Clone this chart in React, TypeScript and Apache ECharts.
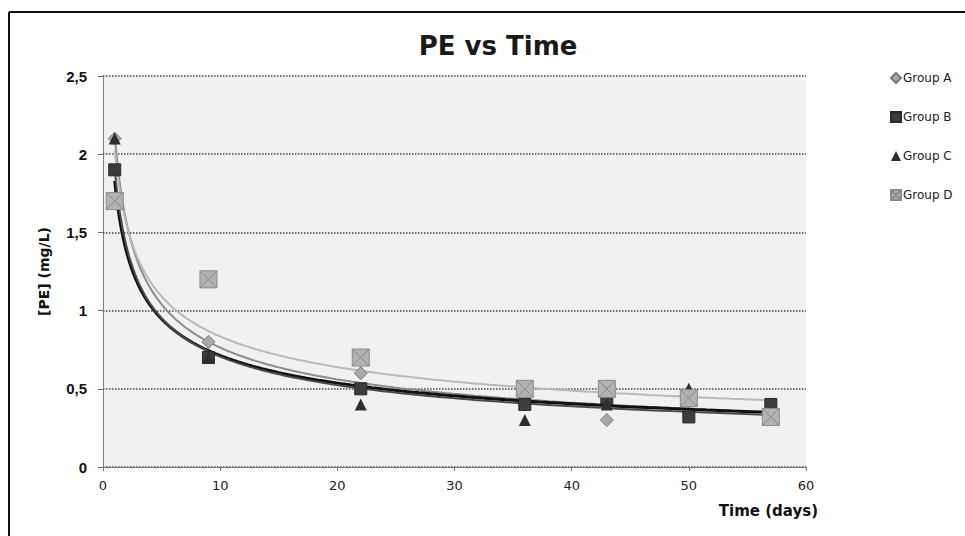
import React, { useEffect, useRef } from "react";
import * as echarts from "echarts";

const days = [1, 9, 22, 36, 43, 50, 57];
const groupA = [2.1, 0.8, 0.6, 0.45, 0.3, 0.42, 0.36];
const groupB = [1.9, 0.7, 0.5, 0.4, 0.44, 0.32, 0.4];
const groupC = [2.1, 0.7, 0.4, 0.3, 0.4, 0.5, 0.36];
const groupD = [1.7, 1.2, 0.7, 0.5, 0.5, 0.44, 0.32];
const groupNames = ["Group A", "Group B", "Group C", "Group D"];
const xTicks = [0, 10, 20, 30, 40, 50, 60];
const yTicks = [0, 0.5, 1, 1.5, 2, 2.5];

// Power regression (y = a * x^b) in log-log space, as Excel's power trendline
function powerFit(xs: number[], ys: number[]) {
  const n = xs.length;
  let sx = 0, sy = 0, sxx = 0, sxy = 0;
  for (let i = 0; i < n; i++) {
    const lx = Math.log(xs[i]);
    const ly = Math.log(ys[i]);
    sx += lx; sy += ly; sxx += lx * lx; sxy += lx * ly;
  }
  const b = (n * sxy - sx * sy) / (n * sxx - sx * sx);
  const a = Math.exp((sy - b * sx) / n);
  return { a, b };
}

function trendPoints(xs: number[], ys: number[]) {
  const { a, b } = powerFit(xs, ys);
  const pts: number[][] = [];
  const x0 = xs[0];
  const x1 = xs[xs.length - 1];
  const steps = 200;
  for (let i = 0; i <= steps; i++) {
    const t = i / steps;
    const x = x0 * Math.pow(x1 / x0, t);
    pts.push([x, a * Math.pow(x, b)]);
  }
  return pts;
}

const diamond = "path://M5,0L10,5L5,10L0,5Z";
const crossSquare = "path://M0,0L10,0L10,10L0,10Z M0,0L10,10 M10,0L0,10";

export default function App() {
  const ref = useRef<HTMLDivElement>(null);

  useEffect(() => {
    if (!ref.current) return;
    const chart = echarts.init(ref.current, undefined, { renderer: "svg" });

    const groups = [groupA, groupB, groupC, groupD];
    const scatterStyles = [
      { symbol: diamond, size: 13, color: "#a8a8a8", border: "#7a7a7a", bw: 1 },
      { symbol: "rect", size: 12, color: "#3c3c3c", border: "#2a2a2a", bw: 1 },
      { symbol: "triangle", size: 12, color: "#2e2e2e", border: "#2e2e2e", bw: 0 },
      { symbol: crossSquare, size: 17, color: "#b3b3b3", border: "#8a8a8a", bw: 1 },
    ];
    const trendStyles = [
      { color: "#8c8c8c", width: 2 },
      { color: "#111111", width: 3 },
      { color: "#4a4a4a", width: 2 },
      { color: "#b8b8b8", width: 2 },
    ];

    const trendSeries = groups.map((g, i) => ({
      name: "Trend " + groupNames[i],
      type: "line",
      data: trendPoints(days, g),
      showSymbol: false,
      symbol: "none",
      lineStyle: { color: trendStyles[i].color, width: trendStyles[i].width },
      z: 2,
      silent: true,
    }));

    const scatterSeries = groups.map((g, i) => ({
      name: groupNames[i],
      type: "scatter",
      data: days.map((d, j) => [d, g[j]]),
      symbol: scatterStyles[i].symbol,
      symbolSize: scatterStyles[i].size,
      itemStyle: {
        color: scatterStyles[i].color,
        borderColor: scatterStyles[i].border,
        borderWidth: scatterStyles[i].bw,
        opacity: 1,
      },
      z: 3,
    }));

    chart.setOption({
      animation: false,
      backgroundColor: "#ffffff",
      title: {
        text: "PE vs Time",
        left: 493,
        top: 28,
        textAlign: "center",
        textStyle: {
          fontFamily: "DejaVu Sans",
          fontWeight: "bold",
          fontSize: 26,
          color: "#1a1a1a",
        },
      },
      legend: {
        data: groupNames,
        orient: "vertical",
        left: 885,
        top: 67,
        itemGap: 27,
        itemWidth: 10,
        itemHeight: 10,
        textStyle: {
          fontFamily: "DejaVu Sans",
          fontSize: 12,
          color: "#222",
          padding: [0, 0, 0, -3],
        },
      },
      grid: {
        left: 103,
        right: 159,
        top: 76,
        bottom: 69,
        show: true,
        backgroundColor: "#f1f1f1",
        borderWidth: 0,
      },
      xAxis: {
        type: "value",
        min: xTicks[0],
        max: xTicks[xTicks.length - 1],
        interval: 10,
        name: "Time (days)",
        nameLocation: "end",
        nameGap: 12,
        nameTextStyle: {
          fontFamily: "DejaVu Sans",
          fontWeight: "bold",
          fontSize: 15,
          color: "#111",
          align: "right",
          verticalAlign: "top",
          padding: [36, 0, 0, 0],
        },
        axisLine: { show: true, lineStyle: { color: "#777", width: 1 } },
        axisTick: { show: true, length: 4, lineStyle: { color: "#777" } },
        axisLabel: {
          fontFamily: "DejaVu Sans",
          fontSize: 13,
          color: "#222",
          margin: 12,
        },
        splitLine: { show: false },
      },
      yAxis: {
        type: "value",
        min: yTicks[0],
        max: yTicks[yTicks.length - 1],
        interval: 0.5,
        name: "[PE] (mg/L)",
        nameLocation: "middle",
        nameGap: 52,
        nameRotate: 90,
        nameTextStyle: {
          fontFamily: "DejaVu Sans",
          fontWeight: "bold",
          fontSize: 14,
          color: "#111",
        },
        axisLine: { show: true, lineStyle: { color: "#666", type: "dotted", width: 1 } },
        axisTick: { show: true, length: 5, lineStyle: { color: "#666" } },
        axisLabel: {
          fontFamily: "Liberation Sans",
          fontWeight: "bold",
          fontSize: 15,
          color: "#111",
          margin: 16,
          formatter: (v: number) => String(v).replace(".", ","),
        },
        splitLine: { show: true, lineStyle: { color: "#444", type: "dotted", width: 1.5 } },
      },
      graphic: [
        { type: "line", shape: { x1: 9, y1: 12, x2: 9, y2: 536 }, style: { stroke: "#111", lineWidth: 2 } },
        { type: "line", shape: { x1: 9, y1: 12, x2: 965, y2: 12 }, style: { stroke: "#111", lineWidth: 2 } },
      ],
      series: [...trendSeries, ...scatterSeries],
    });

    return () => chart.dispose();
  }, []);

  return (
    <div
      ref={ref}
      style={{ position: "fixed", left: 0, top: 0, width: 965, height: 536 }}
    />
  );
}
